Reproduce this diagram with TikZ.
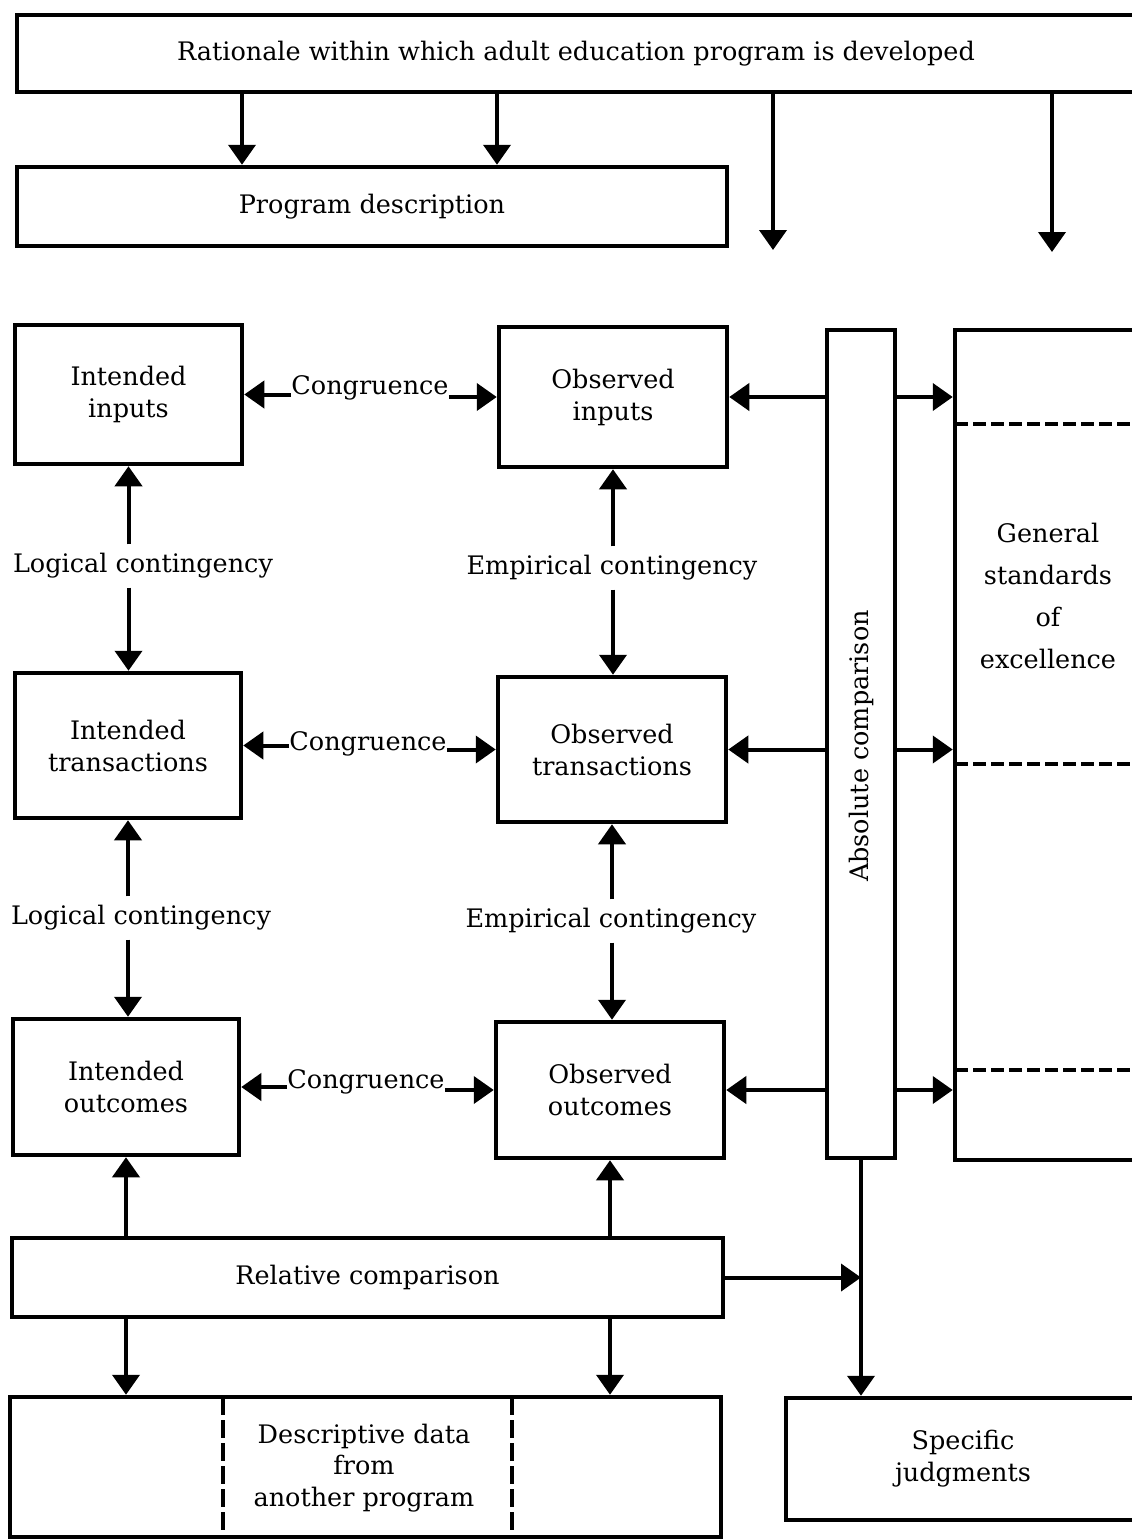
\documentclass[tikz,border=0pt]{standalone}
\usepackage{fontspec}
\setmainfont{DejaVu Serif}
\usetikzlibrary{arrows.meta}
\newcommand\lblfont{\fontsize{25.5}{32}\selectfont}
\begin{document}
\begin{tikzpicture}[x=1pt,y=-1pt,
  box/.style={draw,line width=4.5pt,inner sep=0pt,align=center,font=\lblfont},
  lab/.style={inner xsep=0pt,inner ysep=3pt,align=center,font=\lblfont},
  vlab/.style={inner xsep=2pt,inner ysep=9pt,align=center,font=\lblfont},
  arr/.style={line width=4pt,-{Triangle[length=20pt,width=27pt]}},
  dsh/.style={line width=4pt,dash pattern=on 13pt off 5pt}]
\useasboundingbox (0,0) rectangle (1132,1540);
\clip (0,0) rectangle (1132,1540);

% top boxes
\node[box,minimum width=1118,minimum height=77] (rat) at (576,53.5) {Rationale within which adult education program is developed};
\node[box,minimum width=710,minimum height=79] (pd) at (372,206.5) {Program description};

% matrix boxes
\node[box,minimum width=227,minimum height=139] (ii) at (128.5,394.5) {Intended\\inputs};
\node[box,minimum width=228,minimum height=140] (oi) at (613,397) {Observed\\inputs};
\node[box,minimum width=226,minimum height=145] (it) at (128,745.5) {Intended\\transactions};
\node[box,minimum width=228,minimum height=145] (ot) at (612,749.5) {Observed\\transactions};
\node[box,minimum width=226,minimum height=136] (io) at (126,1087) {Intended\\outcomes};
\node[box,minimum width=228,minimum height=136] (oo) at (610,1090) {Observed\\outcomes};

% absolute comparison and standards
\node[box,minimum width=68,minimum height=828] (abs) at (861,744) {};
\node[font=\lblfont,rotate=90,inner sep=0pt] (abst) at (861,746) {Absolute comparison};
\node[box,minimum width=186,minimum height=830] (gs) at (1048,745) {};
\node[font=\fontsize{25.5}{42}\selectfont,align=center,inner sep=0pt] (gst) at (1048,596) {General\\standards\\of\\excellence};
\draw[dsh] (955,424) -- (1140,424);
\draw[dsh] (955,764) -- (1140,764);
\draw[dsh] (955,1070) -- (1140,1070);

% bottom boxes
\node[box,minimum width=711,minimum height=79] (rc) at (367.5,1277.5) {Relative comparison};
\node[box,minimum width=711,minimum height=140] (dd) at (365.5,1467) {};
\node[font=\fontsize{25.5}{31.5}\selectfont,align=center,inner sep=0pt] (ddt) at (364,1468) {Descriptive data\\from\\another program};
\draw[dsh,dash pattern=on 18pt off 5pt] (223,1397) -- (223,1537);
\draw[dsh,dash pattern=on 18pt off 5pt] (512,1397) -- (512,1537);
\node[box,minimum width=354,minimum height=122] (sj) at (963,1459) {Specific\\judgments};

% labels
\node[lab] (cg1) at (370,388) {Congruence};
\node[lab] (cg2) at (368,744) {Congruence};
\node[lab] (cg3) at (366,1082) {Congruence};
\node[vlab] (lc1) at (143,566) {Logical contingency};
\node[vlab] (lc2) at (141,918) {Logical contingency};
\node[vlab] (ec1) at (612,568) {Empirical contingency};
\node[vlab] (ec2) at (611,921) {Empirical contingency};

% arrows from rationale
\coordinate (t1) at (242,0);
\coordinate (t2) at (497,0);
\coordinate (t3) at (773,250);
\coordinate (t4) at (1052,252);
\draw[arr] (rat.south -| t1) -- (pd.north -| t1);
\draw[arr] (rat.south -| t2) -- (pd.north -| t2);
\draw[arr] (rat.south -| t3) -- (t3);
\draw[arr] (rat.south -| t4) -- (t4);

% congruence arrows
\draw[arr] (cg1.west |- ii.east) -- (ii.east);
\draw[arr] (cg1.east |- oi.west) -- (oi.west);
\draw[arr] (cg2.west |- it.east) -- (it.east);
\draw[arr] (cg2.east |- ot.west) -- (ot.west);
\draw[arr] (cg3.west |- io.east) -- (io.east);
\draw[arr] (cg3.east |- oo.west) -- (oo.west);

% contingency arrows
\draw[arr] (ii.south |- lc1.north) -- (ii.south);
\draw[arr] (ii.south |- lc1.south) -- (it.north -| ii.south);
\draw[arr] (it.south |- lc2.north) -- (it.south);
\draw[arr] (it.south |- lc2.south) -- (io.north -| it.south);
\draw[arr] (oi.south |- ec1.north) -- (oi.south);
\draw[arr] (oi.south |- ec1.south) -- (ot.north -| oi.south);
\draw[arr] (ot.south |- ec2.north) -- (ot.south);
\draw[arr] (ot.south |- ec2.south) -- (oo.north -| ot.south);

% absolute comparison arrows
\draw[arr] (abs.west |- oi.east) -- (oi.east);
\draw[arr] (abs.east |- oi.east) -- (gs.west |- oi.east);
\draw[arr] (abs.west |- ot.east) -- (ot.east);
\draw[arr] (abs.east |- ot.east) -- (gs.west |- ot.east);
\draw[arr] (abs.west |- oo.east) -- (oo.east);
\draw[arr] (abs.east |- oo.east) -- (gs.west |- oo.east);

% relative comparison arrows
\draw[arr] (rc.north -| io.south) -- (io.south);
\draw[arr] (rc.north -| oo.south) -- (oo.south);
\draw[arr] (rc.south -| io.south) -- (dd.north -| io.south);
\draw[arr] (rc.south -| oo.south) -- (dd.north -| oo.south);
\draw[arr] (rc.east) -- (abs.south |- rc.east);
\draw[arr] (abs.south) -- (abs.south |- sj.north);
\end{tikzpicture}
\end{document}
